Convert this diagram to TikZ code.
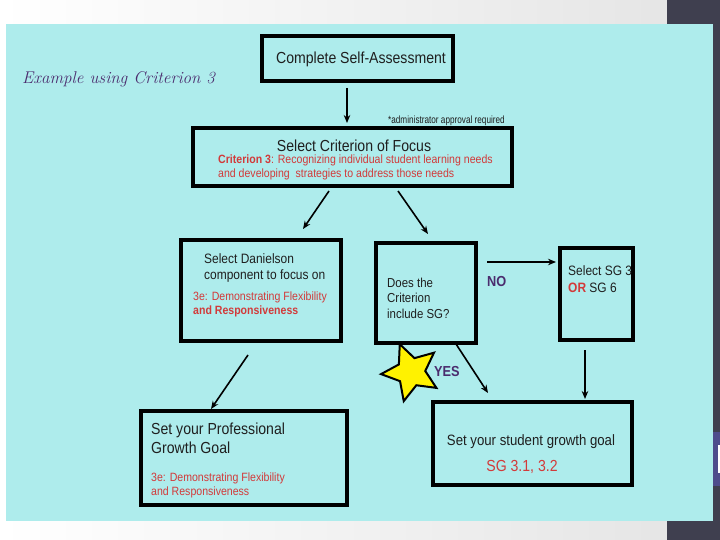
\documentclass[tikz,border=0pt]{standalone}
\usepackage{fontspec}
\newfontfamily\arial{Liberation Sans}[FakeStretch=0.88]
\newfontfamily\arialn{Liberation Sans}[FakeStretch=0.78]
\usetikzlibrary{arrows.meta,shapes.geometric}
\definecolor{bgcyan}{HTML}{AEECEC}
\definecolor{slate}{HTML}{3F3F4F}
\definecolor{redtxt}{HTML}{D23A3A}
\definecolor{purp}{HTML}{4B2C6E}
\definecolor{strip}{HTML}{4E4C8C}
\begin{document}
\begin{tikzpicture}[x=1pt,y=-1pt,
 box/.style={draw=black, line width=3.2pt, inner sep=0pt},
 conn/.style={line width=1.6pt, -{Stealth[length=8pt,width=6.5pt]}},
 txt/.style={font=\arial\fontsize{#1}{#1}\selectfont, anchor=base west, inner sep=0pt, text=black!88},
 redt/.style={font=\arial\fontsize{#1}{#1}\selectfont, anchor=base west, inner sep=0pt, text=redtxt},
 lab/.style={font=\arial\bfseries\fontsize{14.5}{14.5}\selectfont, anchor=base west, inner sep=0pt, text=purp},
]
\useasboundingbox (0,0) rectangle (720,540);
\shade[left color=white, right color=black!10] (0,0) rectangle (667,540);
\fill[slate] (667,0) rectangle (720,540);
\fill[bgcyan] (6,24) rectangle (713,521);
\fill[strip] (713,432) rectangle (720,486);
\fill[white] (718,445) rectangle (720,473);

% title
\node[font=\itshape\fontsize{17}{17}\selectfont, text=purp, anchor=base west, inner sep=0pt] (ttl) at (22,84) {Example using Criterion 3};

% boxes
\node[box, minimum width=191, minimum height=45] (b1) at (357.5,58.5) {};
\node[box, minimum width=319, minimum height=58] (b2) at (352.5,157) {};
\node[box, minimum width=160, minimum height=101] (b3) at (261,290.5) {};
\node[box, minimum width=100, minimum height=100] (b4) at (426,293) {};
\node[box, minimum width=73, minimum height=92] (b5) at (596.5,294) {};
\node[box, minimum width=206, minimum height=94] (b6) at (244,458) {};
\node[box, minimum width=199, minimum height=83] (b7) at (532.5,443.5) {};

% texts
\node[txt=16, anchor=base] (t1) at (361,63.5) {Complete Self-Assessment};
\node[txt=10.5, font=\arialn\fontsize{10.5}{10.5}\selectfont] (adm) at (388,124) {*administrator approval required};
\node[txt=16, anchor=base] (t2) at (354,151.5) {Select Criterion of Focus};
\node[redt=12] (t2a) at (218,163.5) {\textbf{Criterion 3}: Recognizing individual student learning needs};
\node[redt=12] (t2b) at (218,177.5) {and developing\ \ strategies to address those needs};
\node[txt=13.6] (t3a) at (204,263) {Select Danielson};
\node[txt=13.6] (t3b) at (204,279) {component to focus on};
\node[redt=12] (t3c) at (193,300) {3e: Demonstrating Flexibility};
\node[redt=12] (t3d) at (193,314) {\textbf{and Responsiveness}};
\node[txt=13] (t4a) at (387,287) {Does the};
\node[txt=13] (t4b) at (387,302) {Criterion};
\node[txt=13] (t4c) at (387,318) {include SG?};
\node[txt=13.6] (t5a) at (568,275) {Select SG 3};
\node[txt=13.6] (t5b) at (568,292) {{\bfseries\color{redtxt}OR} SG 6};
\node[txt=16] (t6a) at (151,434) {Set your Professional};
\node[txt=16] (t6b) at (151,453) {Growth Goal};
\node[redt=12] (t6c) at (151,481) {3e: Demonstrating Flexibility};
\node[redt=12] (t6d) at (151,495) {and Responsiveness};
\node[txt=15, anchor=base] (t7a) at (531,445) {Set your student growth goal};
\node[redt=16, anchor=base] (t7b) at (522,471.5) {SG 3.1, 3.2};
\node[lab] (no) at (487,286.5) {NO};
\node[lab] (yes) at (434,376.5) {YES};

% star
\node[star, star points=5, star point ratio=2.1, minimum size=60pt, fill=yellow, draw=black, line width=2pt, rotate=22, inner sep=0pt] (st) at (411,372) {};

% connectors
\coordinate (a1s) at (347,88); \coordinate (a1e) at (347,123);
\coordinate (a2s) at (329,191); \coordinate (a2e) at (303,229);
\coordinate (a3s) at (398,191); \coordinate (a3e) at (428,234);
\coordinate (a4s) at (487,262); \coordinate (a4e) at (556,262);
\coordinate (a5s) at (248,355); \coordinate (a5e) at (211,409);
\coordinate (a6s) at (456,344); \coordinate (a6e) at (488,393);
\coordinate (a7s) at (585,350); \coordinate (a7e) at (585,399);
\draw[conn] (a1s) -- (a1e);
\draw[conn] (a2s) -- (a2e);
\draw[conn] (a3s) -- (a3e);
\draw[conn] (a4s) -- (a4e);
\draw[conn] (a5s) -- (a5e);
\draw[conn] (a6s) -- (a6e);
\draw[conn] (a7s) -- (a7e);
\end{tikzpicture}
\end{document}
